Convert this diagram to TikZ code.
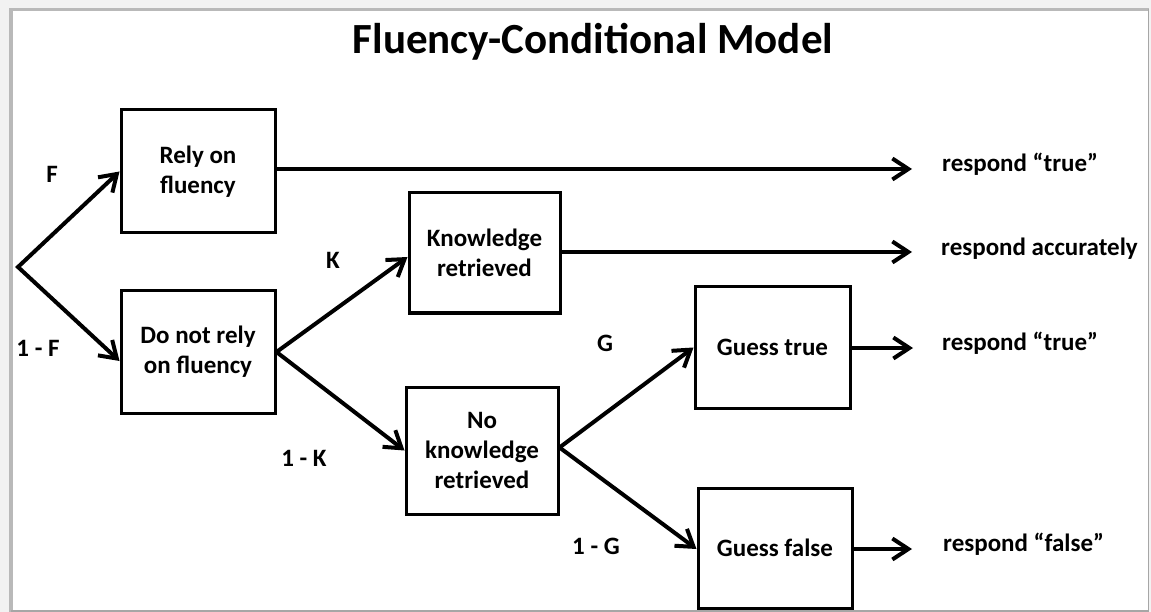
\documentclass[tikz,border=0pt]{standalone}
\usepackage{fontspec}
\setmainfont{Carlito}
\usetikzlibrary{arrows.meta}
\begin{document}
\begin{tikzpicture}[x=1pt,y=-1pt,
  box/.style={draw=black,line width=3pt,minimum width=154pt,align=center,
    font=\fontsize{25}{30}\selectfont\bfseries,inner sep=0pt},
  lbl/.style={font=\fontsize{25}{30}\selectfont\bfseries,inner sep=0pt},
  resp/.style={font=\fontsize{25}{30}\selectfont\bfseries,inner sep=0pt,anchor=base west},
  arr/.style={line width=4pt,-{Straight Barb[length=16pt,width=21pt,line width=4pt]}}]
\useasboundingbox (0,0) rectangle (1151,612);
% frame
\fill[gray!10] (0,0) rectangle (1151,612);
\fill[white] (13,11) rectangle (1148,610);
\draw[gray!55,line width=3pt] (9,9.5) -- (1149,9.5);
\draw[gray!55,line width=4pt] (11,9) -- (11,612);
\draw[gray!70,line width=1.5pt] (1148.5,9) -- (1148.5,612);
\draw[gray!70,line width=1.5pt] (11,610.8) -- (1149,610.8);
% title
\node[font=\fontsize{43}{50}\selectfont\bfseries,inner sep=0pt] (title) at (593,42) {Fluency-Conditional Model};
% boxes
\node[box,minimum height=123pt] (rf) at (198,171.5) {Rely on\\fluency};
\node[box,minimum height=122pt] (dnr) at (198,352) {Do not rely\\on fluency};
\node[box,minimum width=151pt,minimum height=120pt] (kr) at (484.5,253) {Knowledge\\retrieved};
\node[box,minimum width=152pt,minimum height=127pt] (nkr) at (482,450.5) {No\\knowledge\\retrieved};
\node[box,minimum width=155pt,minimum height=121pt] (gt) at (772.5,347.5) {Guess true};
\node[box,minimum width=154pt,minimum height=120pt] (gf) at (775,548) {Guess false};
% coordinates
\coordinate (s) at (18,267);
\coordinate (e1) at (912,169);
\coordinate (e2) at (912,252);
\coordinate (e3) at (913,348);
\coordinate (e4) at (912,549);
% connectors
\draw[line width=4pt,line join=miter,{Straight Barb[length=16pt,width=21pt,line width=4pt]}-{Straight Barb[length=16pt,width=21pt,line width=4pt]}]
  (rf.west) -- (s) -- ([yshift=-9pt]dnr.west);
\draw[arr] (dnr.east) -- ([yshift=-4pt]kr.west);
\draw[arr] (dnr.east) -- (nkr.west);
\draw[arr] ([yshift=3pt]nkr.east) -- (gt.west);
\draw[arr] ([yshift=3pt]nkr.east) -- ([yshift=-1pt]gf.west);
\draw[arr] (rf.east |- e1) -- (e1);
\draw[arr] (kr.east |- e2) -- (e2);
\draw[arr] (gt.east |- e3) -- (e3);
\draw[arr] (gf.east |- e4) -- (e4);
% labels
\node[lbl] (lF) at (52,174) {F};
\node[lbl] (l1F) at (38,348) {1 - F};
\node[lbl] (lK) at (333,260) {K};
\node[lbl] (l1K) at (304,458) {1 - K};
\node[lbl] (lG) at (605,343) {G};
\node[lbl] (l1G) at (596,546) {1 - G};
\node[resp] (r1) at (942,172) {respond “true”};
\node[resp] (r2) at (941,256) {respond accurately};
\node[resp] (r3) at (942,350) {respond “true”};
\node[resp] (r4) at (943,551) {respond “false”};
\end{tikzpicture}
\end{document}
